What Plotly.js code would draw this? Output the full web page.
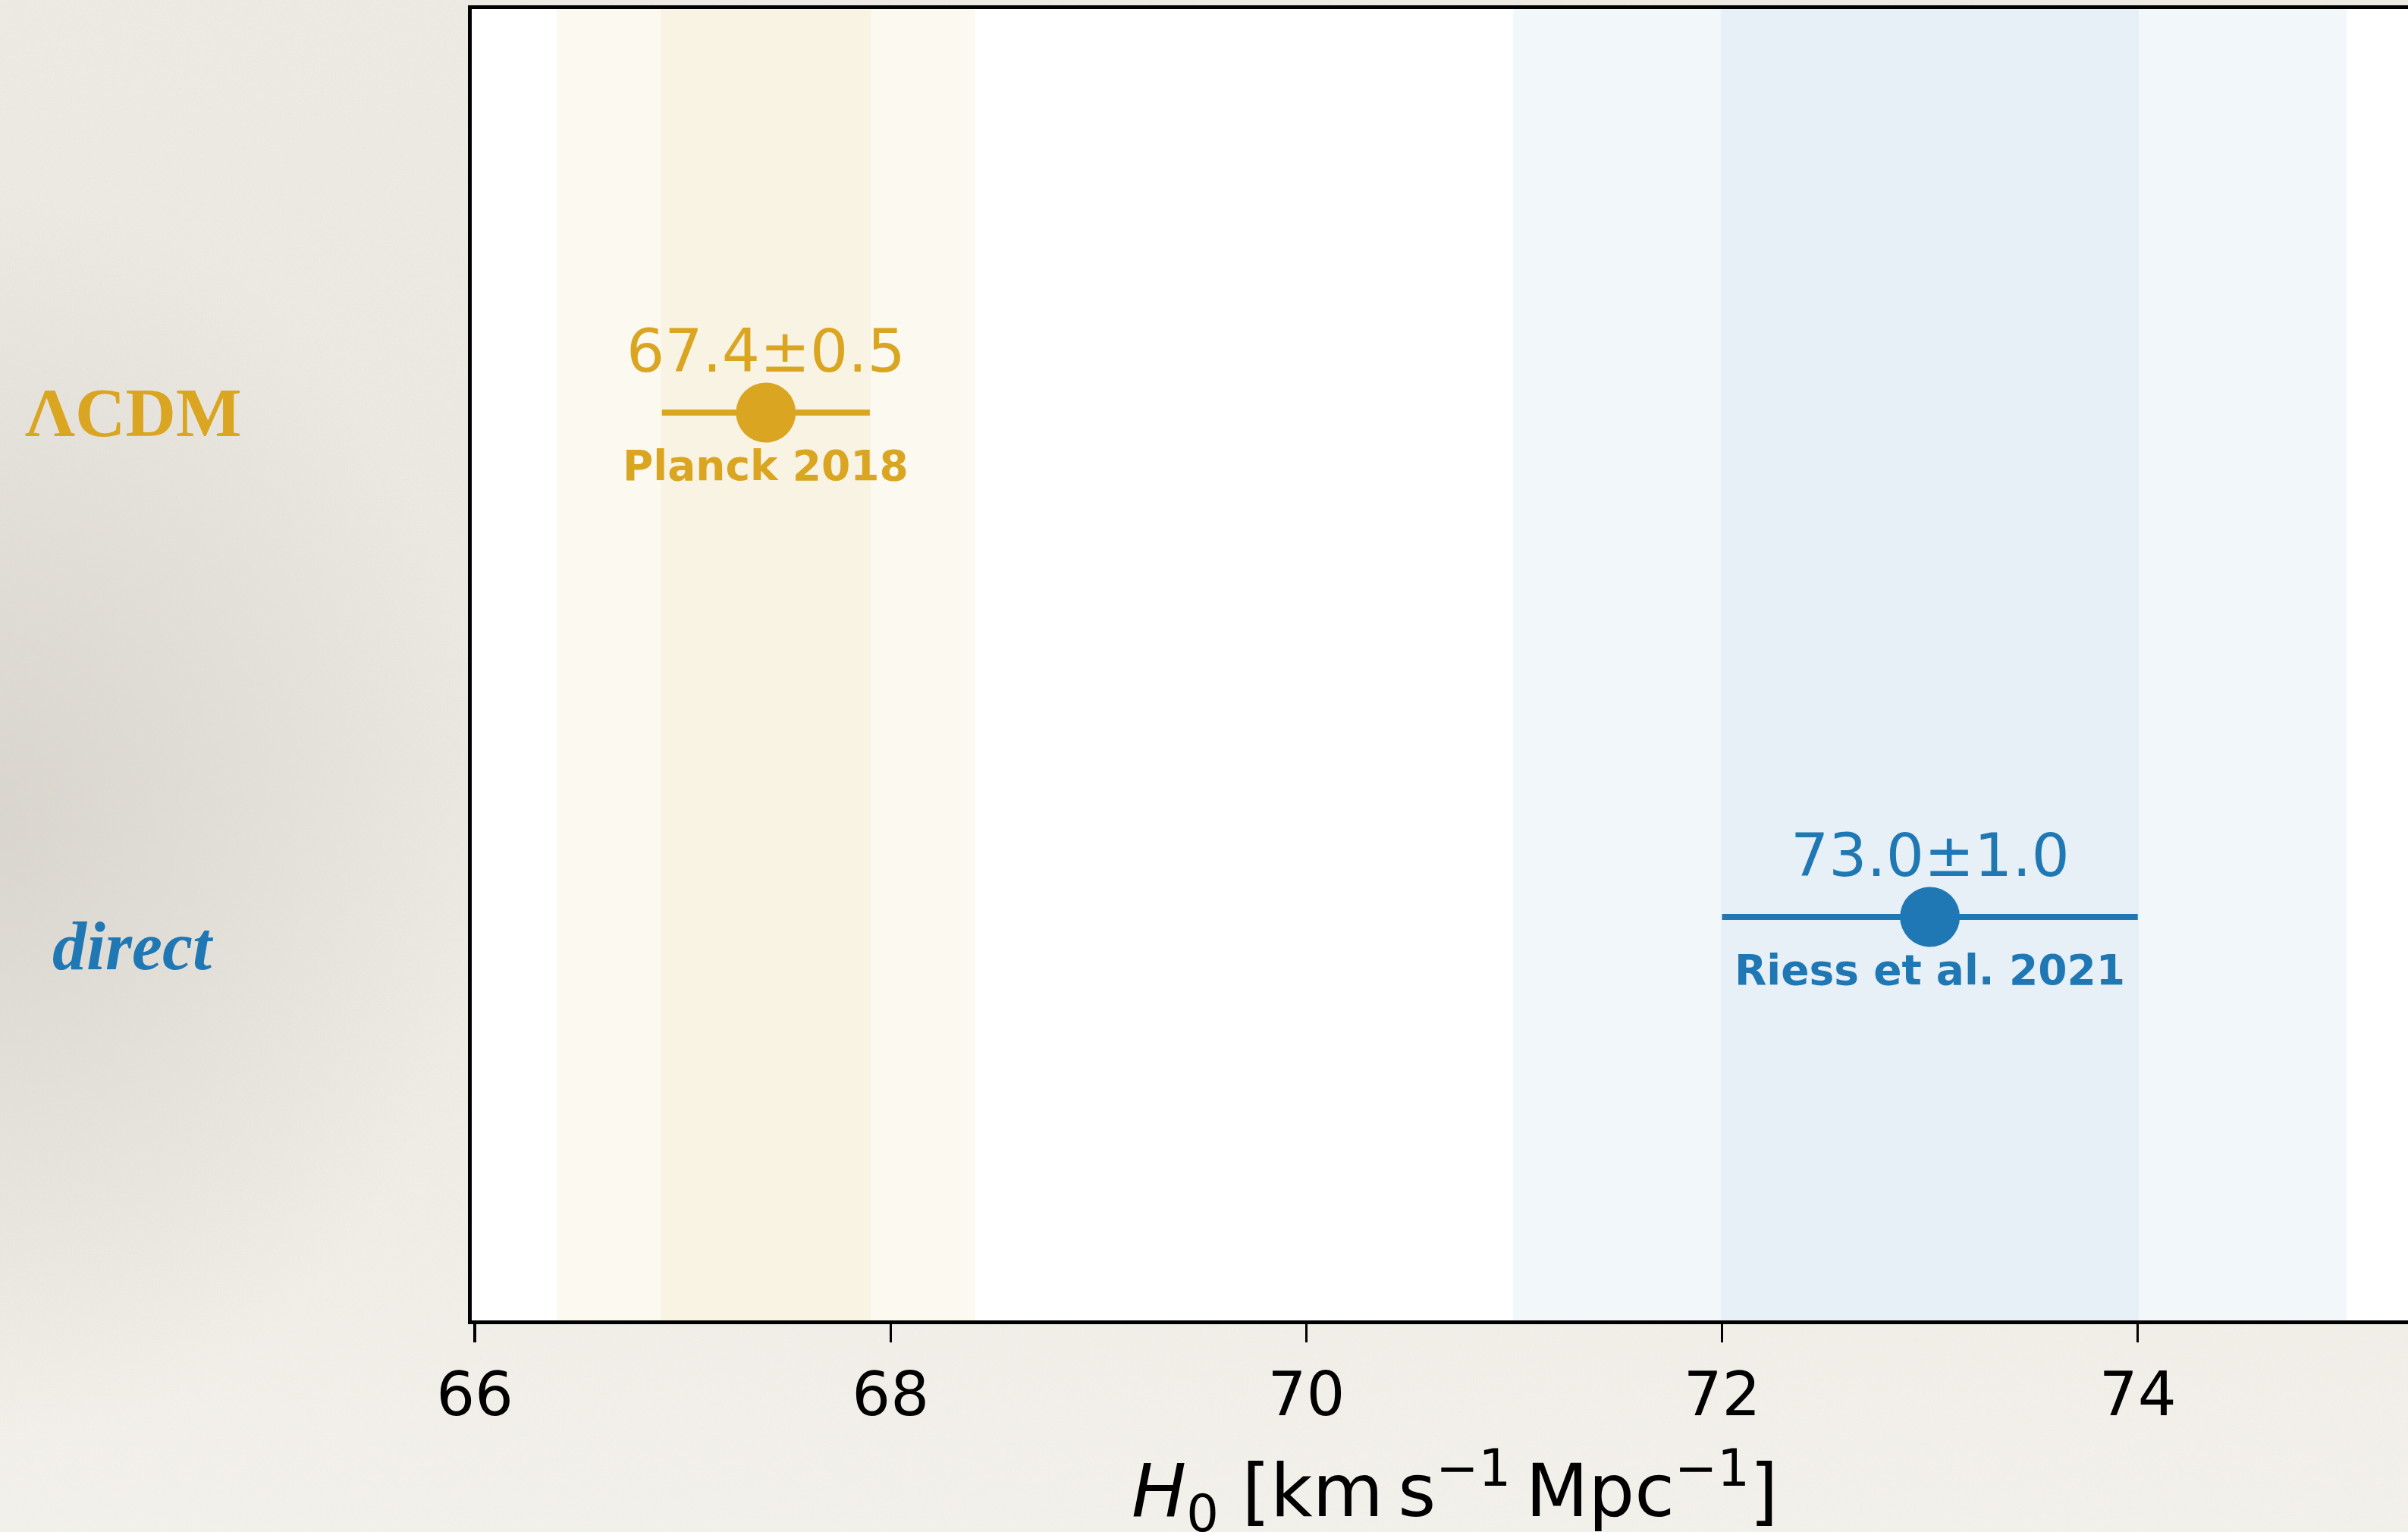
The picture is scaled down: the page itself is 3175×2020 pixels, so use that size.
<!DOCTYPE html>
<html>
<head>
<meta charset="utf-8">
<script src="https://cdn.plot.ly/plotly-3.0.1.min.js"></script>
<style>
  html, body { margin: 0; padding: 0; width: 3175px; height: 2020px; overflow: hidden; }
  body {
    background-color: #f2efe8;
    background-image:
      url("data:image/svg+xml;utf8,<svg xmlns='http://www.w3.org/2000/svg' width='400' height='400'><filter id='n'><feTurbulence type='fractalNoise' baseFrequency='0.9 0.35' numOctaves='2' seed='4'/><feColorMatrix values='0 0 0 0 0.45  0 0 0 0 0.43  0 0 0 0 0.40  0 0 0 0.09 0'/></filter><rect width='400' height='400' filter='url(%23n)'/></svg>"),
      radial-gradient(ellipse 640px 820px at 0px 1080px, rgba(203,199,191,0.55), rgba(203,199,191,0) 100%),
      linear-gradient(to bottom, #efece5 0%, #edeae3 50%, #f5f3ed 100%);
    background-size: 400px 400px, 100% 100%, 100% 100%;
    background-repeat: repeat, no-repeat, no-repeat;
  }
  #chart { width: 3175px; height: 2020px; }
</style>
</head>
<body>
<div id="chart"></div>
<script>
// H0 measurements: inferred from the CMB under ΛCDM vs. the direct distance ladder
const models   = ['ΛCDM', 'direct'];
const rows     = [2, 1];
const h0       = [67.4, 73.0];
const sigma    = [0.5, 1.0];
const sources  = ['Planck 2018', 'Riess et al. 2021'];
const colors   = ['#DAA520', '#1f77b4'];
const tickVals = [66, 68, 70, 72, 74];
const xTitle   = '<i>H</i><sub>0</sub> [km\u2009s<sup>−1</sup>\u2009Mpc<sup>−1</sup>]';

const traces = models.map((m, i) => ({
  type: 'scatter',
  mode: 'markers',
  name: m,
  x: [h0[i]],
  y: [rows[i]],
  marker: { size: 79, color: colors[i] },
  error_x: { type: 'data', array: [sigma[i]], visible: true, thickness: 8, width: 0, color: colors[i] },
  hoverinfo: 'skip',
  showlegend: false
}));

// 1σ and 2σ vertical bands behind each measurement
const bandOpacity = [0.06, 0.05];
const shapes = [];
models.forEach((m, i) => {
  [2, 1].forEach(k => {
    shapes.push({
      type: 'rect', layer: 'below',
      xref: 'x', yref: 'paper',
      x0: h0[i] - k * sigma[i], x1: h0[i] + k * sigma[i],
      y0: 0, y1: 1,
      fillcolor: colors[i], opacity: bandOpacity[i],
      line: { color: colors[i], width: 3 }
    });
  });
});

const annotations = [];
models.forEach((m, i) => {
  annotations.push({
    xref: 'x', yref: 'y', x: h0[i], y: rows[i], yshift: 81,
    text: h0[i].toFixed(1) + '±' + sigma[i].toFixed(1),
    showarrow: false, xanchor: 'center', yanchor: 'middle',
    font: { family: 'DejaVu Sans', size: 79, color: colors[i] }
  });
  annotations.push({
    xref: 'x', yref: 'y', x: h0[i], y: rows[i], yshift: -70,
    text: '<b>' + sources[i] + '</b>',
    showarrow: false, xanchor: 'center', yanchor: 'middle',
    font: { family: 'DejaVu Sans', size: 55, color: colors[i] }
  });
});

// row labels in the left margin
annotations.push({
  xref: 'paper', yref: 'y', x: -0.1747, y: rows[0], yshift: 0,
  text: '<b>' + models[0] + '</b>', showarrow: false, xanchor: 'center', yanchor: 'middle',
  font: { family: 'Liberation Serif', size: 92, color: colors[0] }
});
annotations.push({
  xref: 'paper', yref: 'y', x: -0.1747, y: rows[1], yshift: -38,
  text: '<b><i>' + models[1] + '</i></b>', showarrow: false, xanchor: 'center', yanchor: 'middle',
  font: { family: 'Liberation Serif', size: 90, color: colors[1] }
});

// x-axis title, set just under the tick labels
annotations.push({
  xref: 'paper', yref: 'paper', x: 0.5076, y: 0, yshift: -154,
  text: xTitle, showarrow: false, xanchor: 'center', yanchor: 'top',
  font: { family: 'DejaVu Sans', size: 96, color: '#000' }
});

const layout = {
  width: 3175, height: 2020,
  margin: { l: 622, r: 0, t: 12, b: 279, pad: 0 },
  paper_bgcolor: 'rgba(0,0,0,0)',
  plot_bgcolor: '#ffffff',
  font: { family: 'DejaVu Sans', color: '#000000' },
  xaxis: {
    range: [65.985, 75.30],
    tickvals: tickVals,
    ticktext: tickVals.map(String),
    ticks: 'outside', ticklen: 24, tickwidth: 3.5, tickcolor: '#000',
    tickfont: { family: 'DejaVu Sans', size: 80, color: '#000' },
    showline: true, linewidth: 5, linecolor: '#000', mirror: true,
    showgrid: false, zeroline: false
  },
  yaxis: {
    range: [0.2, 2.8],
    showticklabels: false, ticks: '',
    showline: true, linewidth: 5, linecolor: '#000', mirror: false,
    showgrid: false, zeroline: false
  },
  shapes: shapes,
  annotations: annotations,
  showlegend: false
};

Plotly.newPlot('chart', traces, layout, { displayModeBar: false, staticPlot: true });
</script>
</body>
</html>
